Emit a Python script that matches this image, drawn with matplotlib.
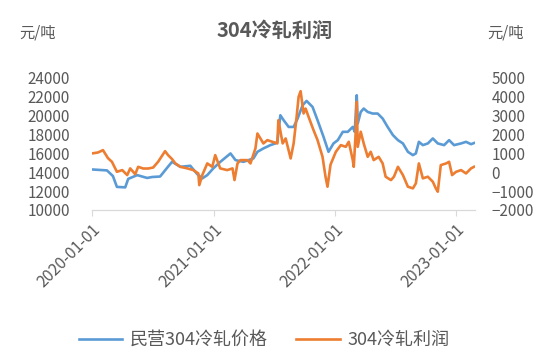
import matplotlib
matplotlib.use("Agg")
import matplotlib.pyplot as plt
import pandas as pd

plt.rcParams['font.family'] = ['Noto Sans CJK SC', 'DejaVu Sans']

title = "304冷轧利润"
unit = "元/吨"
price_label = "民营304冷轧价格"
profit_label = "304冷轧利润"

price_dates = [
    "2020-01-01", "2020-02-15", "2020-03-04", "2020-03-16", "2020-04-10", "2020-04-19",
    "2020-05-16", "2020-06-15", "2020-06-30", "2020-07-24", "2020-08-17", "2020-08-29",
    "2020-09-23", "2020-10-23", "2020-11-13", "2020-11-28", "2020-12-13", "2020-12-31",
    "2021-01-21", "2021-02-21", "2021-03-08", "2021-04-01", "2021-05-01", "2021-05-13",
    "2021-05-31", "2021-06-21", "2021-07-06", "2021-07-12", "2021-07-21", "2021-07-31",
    "2021-08-15", "2021-08-30", "2021-09-11", "2021-09-26", "2021-10-08", "2021-10-26",
    "2021-11-10", "2021-11-28", "2021-12-13", "2021-12-28", "2022-01-10", "2022-01-25",
    "2022-02-09", "2022-02-24", "2022-03-02", "2022-03-08", "2022-03-11", "2022-03-20",
    "2022-03-29", "2022-04-10", "2022-04-25", "2022-05-10", "2022-05-25", "2022-06-09",
    "2022-06-25", "2022-07-10", "2022-07-25", "2022-08-09", "2022-08-24", "2022-09-02",
    "2022-09-11", "2022-09-23", "2022-10-08", "2022-10-23", "2022-11-07", "2022-11-26",
    "2022-12-11", "2022-12-26", "2023-01-16", "2023-01-31", "2023-02-15", "2023-02-24",
]
price = [
    14300, 14200, 13600, 12450, 12400, 13300,
    13700, 13400, 13500, 13550, 14600, 15110,
    14580, 14690, 13800, 13350, 13700, 14410,
    15100, 16000, 15290, 15110, 15470, 16170,
    16530, 16880, 17060, 17230, 20050, 19520,
    18810, 18810, 19700, 21110, 21570, 20930,
    19520, 17760, 16170, 17060, 17410, 18290,
    18290, 18810, 18290, 22170, 19170, 20400,
    20760, 20400, 20230, 20230, 19700, 18810,
    17940, 17410, 17060, 16170, 15820, 16000,
    17230, 16880, 17060, 17590, 17060, 16880,
    17410, 16880, 17060, 17230, 16980, 17100,
]

profit_dates = [
    "2020-01-01", "2020-01-19", "2020-02-03", "2020-02-18", "2020-03-01", "2020-03-16",
    "2020-04-01", "2020-04-16", "2020-04-25", "2020-05-10", "2020-05-19", "2020-06-03",
    "2020-06-18", "2020-07-03", "2020-07-18", "2020-08-08", "2020-08-17", "2020-08-29",
    "2020-09-08", "2020-09-23", "2020-10-14", "2020-11-01", "2020-11-16", "2020-11-19",
    "2020-11-28", "2020-12-13", "2020-12-28", "2021-01-06", "2021-01-21", "2021-02-11",
    "2021-02-27", "2021-03-05", "2021-03-14", "2021-03-23", "2021-04-13", "2021-04-22",
    "2021-05-07", "2021-05-13", "2021-05-22", "2021-05-31", "2021-06-12", "2021-06-27",
    "2021-07-12", "2021-07-15", "2021-07-28", "2021-08-06", "2021-08-21", "2021-08-30",
    "2021-09-08", "2021-09-14", "2021-09-20", "2021-09-29", "2021-10-05", "2021-10-14",
    "2021-10-29", "2021-11-10", "2021-11-25", "2021-12-04", "2021-12-10", "2021-12-19",
    "2022-01-04", "2022-01-19", "2022-02-03", "2022-02-12", "2022-02-24", "2022-02-27",
    "2022-03-05", "2022-03-08", "2022-03-11", "2022-03-20", "2022-03-29", "2022-04-10",
    "2022-04-19", "2022-04-28", "2022-05-13", "2022-05-25", "2022-06-03", "2022-06-19",
    "2022-06-28", "2022-07-10", "2022-07-25", "2022-08-09", "2022-08-24", "2022-09-02",
    "2022-09-11", "2022-09-23", "2022-10-08", "2022-10-23", "2022-11-01", "2022-11-07",
    "2022-11-16", "2022-12-02", "2022-12-11", "2022-12-20", "2023-01-01", "2023-01-16",
    "2023-01-31", "2023-02-15", "2023-02-24",
]
profit = [
    1000, 1050, 1175, 750, 556, 26,
    116, -148, 206, -100, 290, 200,
    200, 250, 556, 1120, 910, 700,
    470, 290, 206, 116, -60, -680,
    -148, 470, 290, 910, 206, 116,
    206, -413, 470, 646, 646, 470,
    1265, 2058, 1794, 1530, 1705, 1617,
    1530, 2760, 1530, 1794, 734, 1530,
    2940, 4000, 4300, 3120, 3380, 2940,
    2230, 1705, 820, -235, -765, 400,
    1085, 1440, 1350, 1617, 646, 290,
    2150, 3730, 1350, 2150, 1530, 820,
    1085, 646, 820, 470, -235, -413,
    -235, 290, -148, -765, -853, -588,
    470, -323, -235, -500, -853, -1030,
    380, 470, 556, -148, 26, 116,
    -60, 206, 290,
]

year_ticks = ["2020-01-01", "2021-01-01", "2022-01-01", "2023-01-01"]
left_ticks = [10000, 12000, 14000, 16000, 18000, 20000, 22000, 24000]
right_ticks = [-2000, -1000, 0, 1000, 2000, 3000, 4000, 5000]

blue = "#5B9BD5"
orange = "#ED7D31"
text_c = "#595959"
axis_c = "#D9D9D9"

fig = plt.figure(figsize=(5.5, 3.61), dpi=100)
ax = fig.add_axes([92/550, 1-210/361, (475-92)/550, (210-78)/361])
ax2 = ax.twinx()

pdates = pd.to_datetime(price_dates)
fdates = pd.to_datetime(profit_dates)
l1, = ax.plot(pdates, price, color=blue, lw=1.9, label=price_label)
l2, = ax2.plot(fdates, profit, color=orange, lw=1.9, label=profit_label)

ax.set_ylim(10000, 24000)
ax2.set_ylim(-2000, 5000)
ax.set_yticks(left_ticks)
ax2.set_yticks(right_ticks)
ax.set_xlim(pd.Timestamp("2020-01-01"), pd.Timestamp("2023-02-27"))
ax.set_xticks(pd.to_datetime(year_ticks))
ax.set_xticklabels(year_ticks, rotation=45, ha="right", rotation_mode="anchor",
                   fontsize=11.5, color=text_c)

for a in (ax, ax2):
    for s in ("top", "left", "right"):
        a.spines[s].set_visible(False)
    a.spines["bottom"].set_color(axis_c)
    a.tick_params(axis="y", length=0, labelsize=11, labelcolor=text_c)
ax.tick_params(axis="y", pad=16)
ax2.tick_params(axis="y", pad=12)
ax.tick_params(axis="x", length=4, color=axis_c, pad=4)

fig.text(275/550, 1-30/361, title, ha="center", va="center", fontsize=14.5,
         fontweight="bold", color=text_c)
fig.text(38/550, 1-33/361, unit, ha="center", va="center", fontsize=11, color=text_c)
fig.text(506/550, 1-33/361, unit, ha="center", va="center", fontsize=11, color=text_c)

fig.legend(handles=[l1, l2], loc="center", bbox_to_anchor=(264/550, 1-340/361),
           ncol=2, frameon=False, fontsize=13, handlelength=2.4, columnspacing=1.6,
           labelcolor=text_c, handletextpad=0.4)

fig.savefig("out.png", dpi=100)
